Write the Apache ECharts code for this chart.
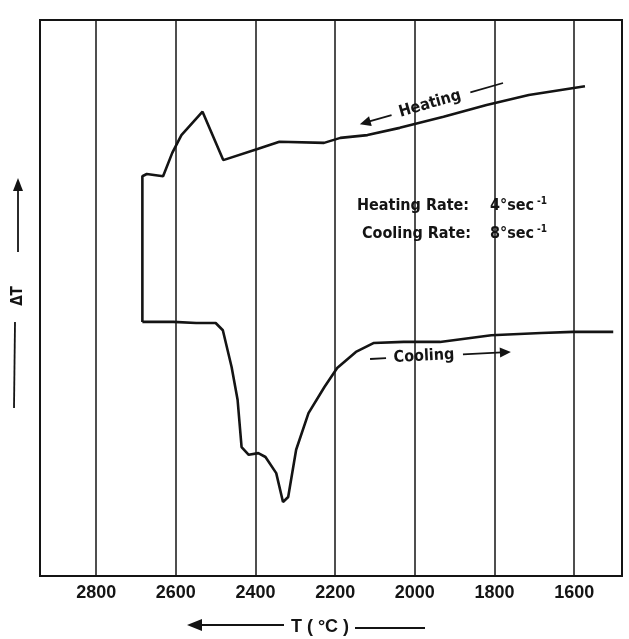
<!DOCTYPE html>
<html>
<head>
<meta charset="utf-8">
<script src="https://cdn.jsdelivr.net/npm/echarts@6/dist/echarts.min.js"></script>
<style>
html,body{margin:0;padding:0;background:#fff;}
#chart{width:629px;height:639px;}
</style>
</head>
<body>
<div id="chart"></div>
<script>
// Temperature tick labels (°C), axis reversed (high T on the left)
const tickValues = [2800, 2600, 2400, 2200, 2000, 1800, 1600];

// Heating curve (read right-to-left as drawn), T in °C, ΔT in arbitrary units
const heatingT  = [1573, 1714, 1820, 1928, 2038, 2119, 2187, 2228, 2340, 2395, 2481, 2533, 2586, 2609, 2632, 2673, 2684, 2684];
const heatingDT = [88.1, 86.5, 84.7, 82.6, 80.6, 79.3, 78.8, 77.9, 78.1, 76.8, 74.8, 83.5, 79.3, 76.1, 71.9, 72.3, 71.9, 45.7];

// Cooling curve (left-to-right)
const coolingT  = [2684, 2606, 2549, 2500, 2482, 2460, 2445, 2435, 2417, 2393, 2375, 2348, 2331, 2318, 2298, 2267, 2227, 2195, 2148, 2104, 2028, 1937, 1808, 1683, 1603, 1502];
const coolingDT = [45.7, 45.7, 45.5, 45.5, 44.2, 37.6, 31.7, 23.2, 21.8, 22.1, 21.4, 18.5, 13.3, 14.2, 22.7, 29.3, 34.0, 37.4, 40.3, 41.9, 42.1, 42.1, 43.3, 43.7, 43.9, 43.9];

const zip = (a, b) => a.map((v, i) => [v, b[i]]);
const ink = '#141414';
const sans = "'Liberation Sans','DejaVu Sans',sans-serif";
const cond = "'DejaVu Sans Condensed','Liberation Sans',sans-serif";

const chart = echarts.init(document.getElementById('chart'), null, {renderer: 'canvas'});

const rateText = (label, val, w) => ({
  text: '{l|' + label + '}{v|' + val + '}{s|-1}',
  rich: {
    l: {font: "bold 16px " + cond, fill: ink, width: w},
    v: {font: "bold 16px " + cond, fill: ink},
    s: {font: "bold 10px " + cond, fill: ink, verticalAlign: 'top', padding: [0, 0, 10, 3]}
  },
  align: 'left', verticalAlign: 'middle'
});

const option = {
  backgroundColor: '#fff',
  animation: false,
  grid: {left: 40, right: 7, top: 20, bottom: 63, show: true, borderColor: ink, borderWidth: 2, backgroundColor: 'transparent'},
  xAxis: {
    type: 'value', inverse: true, min: 1480, max: 2941,
    axisLine: {show: false}, axisTick: {show: false}, splitLine: {show: false},
    axisLabel: {
      customValues: tickValues, margin: 8, color: ink,
      formatter: v => String(v),
      fontFamily: sans, fontWeight: 'bold', fontSize: 18
    }
  },
  yAxis: {
    type: 'value', min: 0, max: 100, show: false,
    axisLine: {show: false}, splitLine: {show: false}
  },
  series: [
    {
      type: 'line', name: 'Heating', data: zip(heatingT, heatingDT),
      showSymbol: false, symbol: 'none', smooth: false,
      lineStyle: {color: ink, width: 2.6}, z: 3,
      markLine: {
        silent: true, symbol: ['none', 'none'],
        label: {show: false},
        lineStyle: {color: ink, width: 1.5, type: 'solid'},
        data: tickValues.map(v => ({xAxis: v}))
      }
    },
    {
      type: 'line', name: 'Cooling', data: zip(coolingT, coolingDT),
      showSymbol: false, symbol: 'none', smooth: false,
      lineStyle: {color: ink, width: 2.6}, z: 3
    }
  ],
  graphic: [
    // "← Heating —" annotation
    {
      type: 'group', x: 430, y: 104, rotation: 0.28,
      children: [
        {type: 'polygon', shape: {points: [[-73, 0], [-62, -5], [-62, 5]]}, style: {fill: ink}},
        {type: 'line', shape: {x1: -64, y1: 0, x2: -40, y2: 0}, style: {stroke: ink, lineWidth: 1.8}},
        {type: 'text', x: 0, y: 0, style: {text: 'Heating', font: "bold 16px " + cond, fill: ink, align: 'center', verticalAlign: 'middle'}},
        {type: 'line', shape: {x1: 42, y1: 0, x2: 76, y2: 0}, style: {stroke: ink, lineWidth: 1.8}}
      ]
    },
    // "— Cooling →" annotation
    {
      type: 'group', x: 430, y: 356, rotation: 0.05,
      children: [
        {type: 'line', shape: {x1: -60, y1: 0, x2: -44, y2: 0}, style: {stroke: ink, lineWidth: 1.8}},
        {type: 'text', x: -6, y: 0, style: {text: 'Cooling', font: "bold 16px " + cond, fill: ink, align: 'center', verticalAlign: 'middle'}},
        {type: 'line', shape: {x1: 33, y1: 0, x2: 72, y2: 0}, style: {stroke: ink, lineWidth: 1.8}},
        {type: 'polygon', shape: {points: [[81, 0], [70, -5], [70, 5]]}, style: {fill: ink}}
      ]
    },
    // Rates
    {type: 'text', x: 357, y: 206, style: rateText('Heating Rate:', '4°sec', 133)},
    {type: 'text', x: 362, y: 234, style: rateText('Cooling Rate:', '8°sec', 128)},
    // ΔT axis label with upward arrow
    {type: 'polygon', shape: {points: [[18, 178], [13, 191], [23, 191]]}, style: {fill: ink}},
    {type: 'line', shape: {x1: 18, y1: 189, x2: 18, y2: 252}, style: {stroke: ink, lineWidth: 1.8}},
    {type: 'text', x: 18, y: 296, rotation: Math.PI / 2, style: {text: 'ΔT', font: "bold 15px " + cond, fill: ink, align: 'center', verticalAlign: 'middle'}},
    {type: 'line', shape: {x1: 15, y1: 322, x2: 14, y2: 408}, style: {stroke: ink, lineWidth: 1.8}},
    // T (°C) axis title with left arrow
    {type: 'polygon', shape: {points: [[187, 625], [202, 619], [202, 631]]}, style: {fill: ink}},
    {type: 'line', shape: {x1: 200, y1: 625, x2: 284, y2: 625}, style: {stroke: ink, lineWidth: 2}},
    {type: 'text', x: 320, y: 627, style: {text: 'T ( °C )', font: "bold 18px " + sans, fill: ink, align: 'center', verticalAlign: 'middle'}},
    {type: 'line', shape: {x1: 355, y1: 628, x2: 425, y2: 628}, style: {stroke: ink, lineWidth: 2}}
  ]
};
chart.setOption(option);
</script>
</body>
</html>
